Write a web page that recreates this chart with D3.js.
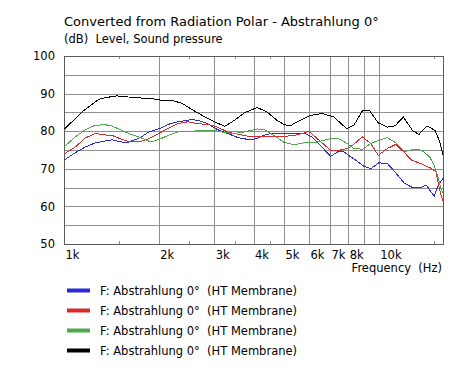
<!DOCTYPE html>
<html>
<head>
<meta charset="utf-8">
<script src="https://cdn.jsdelivr.net/npm/d3@7"></script>
<style>
  body { margin: 0; background: #fff; }
  text { font-family: "DejaVu Sans", Verdana, sans-serif; fill: #000; }
</style>
</head>
<body>
<svg width="466" height="381"></svg>
<script>
const width = 466
const height = 381
const margin = { top: 56, right: 23, bottom: 137, left: 64 }

// measured series (Hz / dB)
const blueFreq = [1000, 1086, 1169, 1257, 1353, 1420, 1530, 1605, 1750, 1860, 2036, 2140, 2300, 2540, 2660, 2860, 3080, 3310, 3570, 3840, 4110, 4210, 4530, 5110, 5780, 6120, 6530, 7030, 7470, 7740, 8440, 8970, 9430, 10000, 10650, 11330, 12050, 12800, 13600, 14150, 14500, 15000, 15400, 16000]
const blueDb = [72.3, 74.3, 75.8, 76.9, 77.4, 77.7, 77.1, 77.1, 78.3, 79.8, 80.9, 81.8, 82.5, 83.1, 82.9, 82.0, 80.4, 79.4, 78.3, 77.8, 78.0, 78.6, 79.4, 79.5, 79.5, 78.5, 76.2, 73.3, 74.7, 74.5, 72.3, 70.7, 70.0, 71.6, 71.4, 68.9, 66.2, 65.0, 65.0, 65.7, 64.4, 62.7, 65.3, 67.5]

const redFreq = [1000, 1086, 1169, 1257, 1353, 1420, 1510, 1605, 1750, 1860, 2000, 2140, 2300, 2470, 2660, 2860, 3030, 3310, 3570, 3840, 4110, 4420, 4870, 5390, 5780, 5990, 6280, 7030, 7470, 7940, 8240, 8870, 9430, 9970, 10650, 11330, 12100, 12700, 13700, 14700, 15200, 15600, 16000]
const redDb = [73.9, 75.8, 78.2, 79.4, 79.0, 78.9, 78.0, 77.2, 77.3, 78.0, 79.4, 80.7, 82.0, 82.5, 82.0, 81.8, 81.3, 79.8, 79.2, 78.7, 78.7, 78.5, 78.5, 78.9, 79.5, 80.0, 78.5, 74.9, 74.9, 75.4, 76.2, 78.5, 76.7, 73.6, 75.4, 76.5, 74.2, 72.3, 71.3, 70.1, 69.2, 64.4, 61.4]

const greenFreq = [1000, 1086, 1169, 1257, 1353, 1420, 1510, 1605, 1750, 1890, 2036, 2140, 2300, 2540, 2800, 3010, 3240, 3480, 3740, 4110, 4340, 4640, 4990, 5390, 5780, 6350, 7030, 7470, 7940, 8340, 8870, 9430, 10000, 10650, 11330, 12100, 12700, 13300, 13800, 14500, 15000, 15400, 15800, 15950]
const greenDb = [75.8, 78.5, 80.4, 81.6, 81.7, 81.4, 80.4, 79.4, 78.3, 77.1, 78.0, 78.9, 79.8, 80.0, 80.2, 80.2, 79.6, 79.4, 79.8, 80.6, 80.4, 78.9, 77.1, 76.4, 76.9, 77.1, 78.0, 78.0, 76.7, 75.4, 75.2, 76.7, 77.6, 78.3, 76.9, 74.6, 75.0, 75.2, 74.7, 73.2, 71.0, 67.9, 64.4, 63.7]

const blackFreq = [1000, 1060, 1140, 1230, 1290, 1350, 1470, 1600, 1770, 1900, 2040, 2190, 2360, 2470, 2630, 2800, 3010, 3240, 3480, 3740, 4110, 4420, 4750, 4990, 5230, 5500, 6070, 6610, 7200, 7900, 8340, 8870, 9360, 9970, 10650, 11260, 11970, 12800, 13400, 14250, 15100, 15640, 16000]
const blackDb = [80.5, 82.5, 85.1, 87.2, 88.5, 88.9, 89.4, 89.1, 88.8, 88.7, 88.2, 88.2, 87.5, 86.5, 85.1, 83.8, 82.5, 81.3, 82.9, 84.9, 86.3, 85.1, 82.9, 81.8, 81.4, 82.5, 84.2, 84.7, 83.8, 80.7, 81.6, 85.4, 85.4, 82.2, 81.1, 81.4, 83.8, 80.2, 79.1, 81.4, 80.2, 77.1, 73.6]

const seriesNames = ['F: Abstrahlung 0°  (HT Membrane)', 'F: Abstrahlung 0°  (HT Membrane)', 'F: Abstrahlung 0°  (HT Membrane)', 'F: Abstrahlung 0°  (HT Membrane)']
const seriesColors = ['#2a2ad8', '#d82a2a', '#4ea84e', '#000000']

const xGridValues = [1000, 2000, 3000, 4000, 5000, 6000, 7000, 8000, 9000, 10000]
const xLabelValues = [1000, 2000, 3000, 4000, 5000, 6000, 7000, 8000, 10000]
const xMinorValues = [1500, 2500, 3500, 4500, 15000]
const yGridValues = [55, 60, 65, 70, 75, 80, 85, 90, 95]
const yLabelValues = [50, 60, 70, 80, 90, 100]

const series = [
  { freq: blueFreq, db: blueDb },
  { freq: redFreq, db: redDb },
  { freq: greenFreq, db: greenDb },
  { freq: blackFreq, db: blackDb }
].map((s, i) => ({
  name: seriesNames[i],
  color: seriesColors[i],
  values: s.freq.map((f, j) => ({ f, v: s.db[j] }))
}))

const plotW = width - margin.left - margin.right
const plotH = height - margin.top - margin.bottom

const xScale = d3.scaleLog().domain([1000, 16000]).range([margin.left, margin.left + plotW])
const yScale = d3.scaleLinear().domain([50, 100]).range([margin.top + plotH, margin.top])

const svg = d3.select('svg')

// horizontal grid
svg.append('g')
  .attr('transform', `translate(${margin.left},0)`)
  .call(d3.axisLeft(yScale).tickValues(yGridValues).tickSize(-plotW).tickFormat(''))
  .call(g => g.select('.domain').remove())
  .selectAll('line').attr('stroke', '#8f8f8f').attr('shape-rendering', 'crispEdges')

// vertical grid
svg.append('g')
  .attr('transform', `translate(0,${margin.top + plotH})`)
  .call(d3.axisBottom(xScale).tickValues(xGridValues).tickSize(-plotH).tickFormat(''))
  .call(g => g.select('.domain').remove())
  .selectAll('line').attr('stroke', '#8f8f8f').attr('shape-rendering', 'crispEdges')

// minor ticks top and bottom
svg.append('g')
  .attr('transform', `translate(0,${margin.top + plotH})`)
  .call(d3.axisBottom(xScale).tickValues(xMinorValues).tickSize(-3).tickFormat(''))
  .call(g => g.select('.domain').remove())
  .selectAll('line').attr('stroke', '#8f8f8f').attr('shape-rendering', 'crispEdges')
svg.append('g')
  .attr('transform', `translate(0,${margin.top})`)
  .call(d3.axisTop(xScale).tickValues(xMinorValues).tickSize(-3).tickFormat(''))
  .call(g => g.select('.domain').remove())
  .selectAll('line').attr('stroke', '#8f8f8f').attr('shape-rendering', 'crispEdges')

// frame
svg.append('rect')
  .attr('x', margin.left)
  .attr('y', margin.top)
  .attr('width', plotW)
  .attr('height', plotH)
  .attr('fill', 'none')
  .attr('stroke', '#5a5a5a')
  .attr('shape-rendering', 'crispEdges')

// curves (aliased like the original plot)
const line = d3.line().x(d => xScale(d.f)).y(d => yScale(d.v))
svg.append('g')
  .selectAll('path')
  .data(series)
  .join('path')
  .attr('d', d => line(d.values))
  .attr('fill', 'none')
  .attr('stroke', d => d.color)
  .attr('stroke-width', 1)
  .attr('shape-rendering', 'crispEdges')

// y labels
svg.append('g')
  .attr('transform', `translate(${margin.left},0)`)
  .call(d3.axisLeft(yScale).tickValues(yLabelValues).tickSize(0).tickPadding(9))
  .call(g => g.select('.domain').remove())
  .selectAll('text')
  .attr('font-size', 11.5)
  .attr('font-family', '"DejaVu Sans", Verdana, sans-serif')
  .attr('fill', '#000')

// x labels
svg.append('g')
  .attr('transform', `translate(0,${margin.top + plotH})`)
  .call(d3.axisBottom(xScale).tickValues(xLabelValues).tickSize(0).tickFormat(d => `${d / 1000}k`))
  .call(g => g.select('.domain').remove())
  .selectAll('text')
  .attr('text-anchor', 'start')
  .attr('x', 1)
  .attr('y', 7)
  .attr('font-size', 11.5)
  .attr('font-family', '"DejaVu Sans", Verdana, sans-serif')
  .attr('fill', '#000')

svg.append('text')
  .attr('x', margin.left + plotW - 1)
  .attr('y', 272)
  .attr('text-anchor', 'end')
  .attr('font-size', 11.5)
  .attr('xml:space', 'preserve')
  .text('Frequency  (Hz)')

// titles
svg.append('text')
  .attr('x', margin.left)
  .attr('y', 26)
  .attr('font-size', 13)
  .text('Converted from Radiation Polar - Abstrahlung 0°')

svg.append('text')
  .attr('x', margin.left)
  .attr('y', 43)
  .attr('font-size', 11.5)
  .attr('xml:space', 'preserve')
  .text('(dB)  Level, Sound pressure')

// legend
const legend = svg.append('g')
  .selectAll('g')
  .data(series)
  .join('g')
  .attr('transform', (d, i) => `translate(67,${290.5 + i * 20})`)
legend.append('line')
  .attr('x1', 0).attr('x2', 23)
  .attr('stroke', d => d.color)
  .attr('stroke-width', 4)
legend.append('text')
  .attr('x', 33)
  .attr('y', 4)
  .attr('font-size', 11.5)
  .attr('xml:space', 'preserve')
  .text(d => d.name)
</script>
</body>
</html>
